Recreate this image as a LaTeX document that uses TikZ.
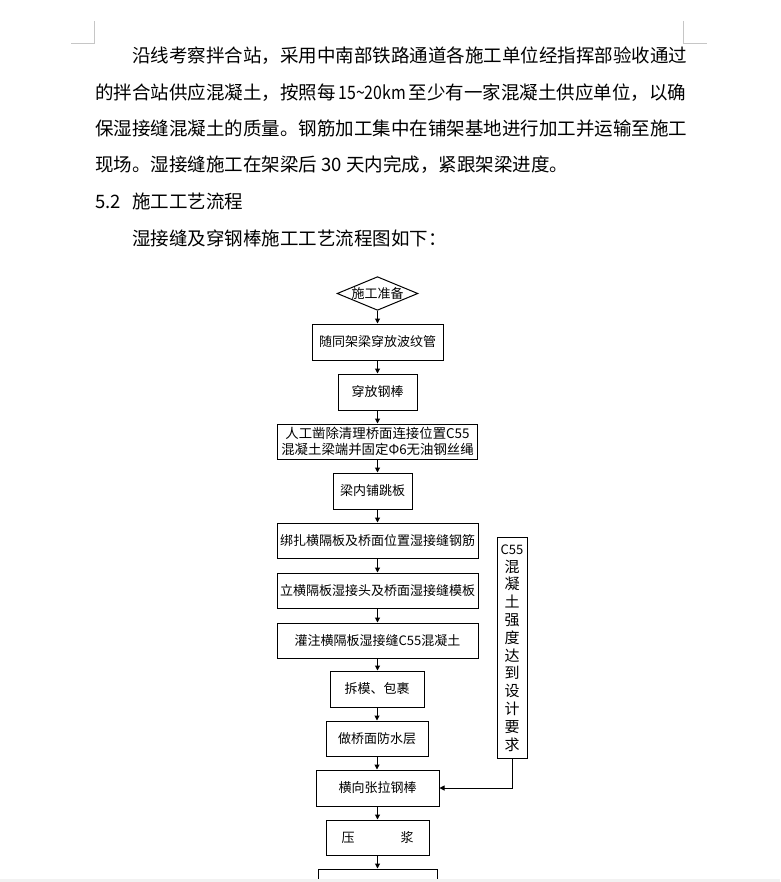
\documentclass[tikz,border=0pt]{standalone}
\usepackage{fontspec}
\setmainfont{Noto Sans CJK SC}
\usetikzlibrary{arrows.meta, shapes.geometric}

\begin{document}
\begin{tikzpicture}[x=1pt, y=-1pt,
  textline/.style={anchor=west, inner sep=0pt, font=\fontsize{18.5pt}{18.5pt}\selectfont},
  flowbox/.style={draw, line width=1pt, inner sep=0pt, align=center, font=\fontsize{13pt}{16pt}\selectfont},
  flow/.style={-{Triangle[length=5pt,width=5pt]}, line width=1pt}]
\useasboundingbox (0,0) rectangle (780,882);

% page corner marks
\draw[gray!45, line width=1pt] (71,44) -- (94,44) -- (94,21);
\draw[gray!45, line width=1pt] (683,21) -- (683,44) -- (707,44);

% paragraph
\node[textline] (line1) at (132,56) {沿线考察拌合站，采用中南部铁路通道各施工单位经指挥部验收通过};
\node[textline] (line2) at (95,93) {\makebox[591pt][s]{的拌合站供应混凝土，按照每 \scalebox{0.86}[1]{15\textasciitilde 20km} 至少有一家混凝土供应单位，以确}};
\node[textline] (line3) at (95,129) {保湿接缝混凝土的质量。钢筋加工集中在铺架基地进行加工并运输至施工};
\node[textline] (line4) at (95,165) {现场。湿接缝施工在架梁后 30 天内完成，紧跟架梁进度。};
\node[textline] (sec) at (95,201) {\makebox[37pt][l]{5.2}施工工艺流程};
\node[textline] (intro) at (132,238) {湿接缝及穿钢棒施工工艺流程图如下：};

% flow chart
\node[flowbox, diamond, aspect=2.4] (prep) at (377.5,293.5) {施工准备};
\node[flowbox, minimum width=131pt, minimum height=36pt] (duct) at (377.5,342) {随同架梁穿放波纹管};
\node[flowbox, minimum width=79pt, minimum height=36pt] (bar) at (377.5,392) {穿放钢棒};
\node[flowbox, minimum width=200pt, minimum height=35pt, font=\fontsize{13.4pt}{16.8pt}\selectfont] (clean) at (377.5,441.5) {人工凿除清理桥面连接位置C55\\混凝土梁端并固定Φ6无油钢丝绳};
\node[flowbox, minimum width=79pt, minimum height=36pt] (plank) at (372.5,491) {梁内铺跳板};
\node[flowbox, minimum width=201pt, minimum height=35pt] (rebar) at (377.5,540.5) {绑扎横隔板及桥面位置湿接缝钢筋};
\node[flowbox, minimum width=201pt, minimum height=35pt] (form) at (377.5,590.5) {立横隔板湿接头及桥面湿接缝模板};
\node[flowbox, minimum width=201pt, minimum height=35pt] (pour) at (377.5,640.5) {灌注横隔板湿接缝C55混凝土};
\node[flowbox, minimum width=94pt, minimum height=36pt] (strip) at (377,689) {拆模、包裹};
\node[flowbox, minimum width=102pt, minimum height=35pt] (proof) at (377,738.5) {做桥面防水层};
\node[flowbox, minimum width=123pt, minimum height=36pt] (tension) at (377.5,788) {横向张拉钢棒};
\node[flowbox, minimum width=103pt, minimum height=35pt] (grout) at (377.5,837.5) {压\hspace{46pt}浆};
\node[flowbox, minimum width=119pt, minimum height=36pt] (next) at (377.5,887) {};
\node[flowbox, minimum width=30pt, minimum height=221pt, font=\fontsize{15pt}{17.8pt}\selectfont] (cure) at (512,648)
  {{\fontsize{13pt}{17.8pt}\selectfont C55}\\混\\凝\\土\\强\\度\\达\\到\\设\\计\\要\\求};

\draw[flow] (prep.south) -- (prep.south |- duct.north);
\draw[flow] (duct.south) -- (duct.south |- bar.north);
\draw[flow] (bar.south) -- (bar.south |- clean.north);
\draw[flow] (bar.south |- clean.south) -- (bar.south |- plank.north);
\draw[flow] (bar.south |- plank.south) -- (bar.south |- rebar.north);
\draw[flow] (rebar.south) -- (rebar.south |- form.north);
\draw[flow] (form.south) -- (form.south |- pour.north);
\draw[flow] (pour.south) -- (pour.south |- strip.north);
\draw[flow] (strip.south) -- (strip.south |- proof.north);
\draw[flow] (proof.south) -- (proof.south |- tension.north);
\draw[flow] (tension.south) -- (tension.south |- grout.north);
\draw[flow] (grout.south) -- (grout.south |- next.north);
\draw[flow] (cure.south) |- (tension.east);

% bottom edge of the page view
\fill[gray!10] (0,879) rectangle (780,882);
\end{tikzpicture}
\end{document}
